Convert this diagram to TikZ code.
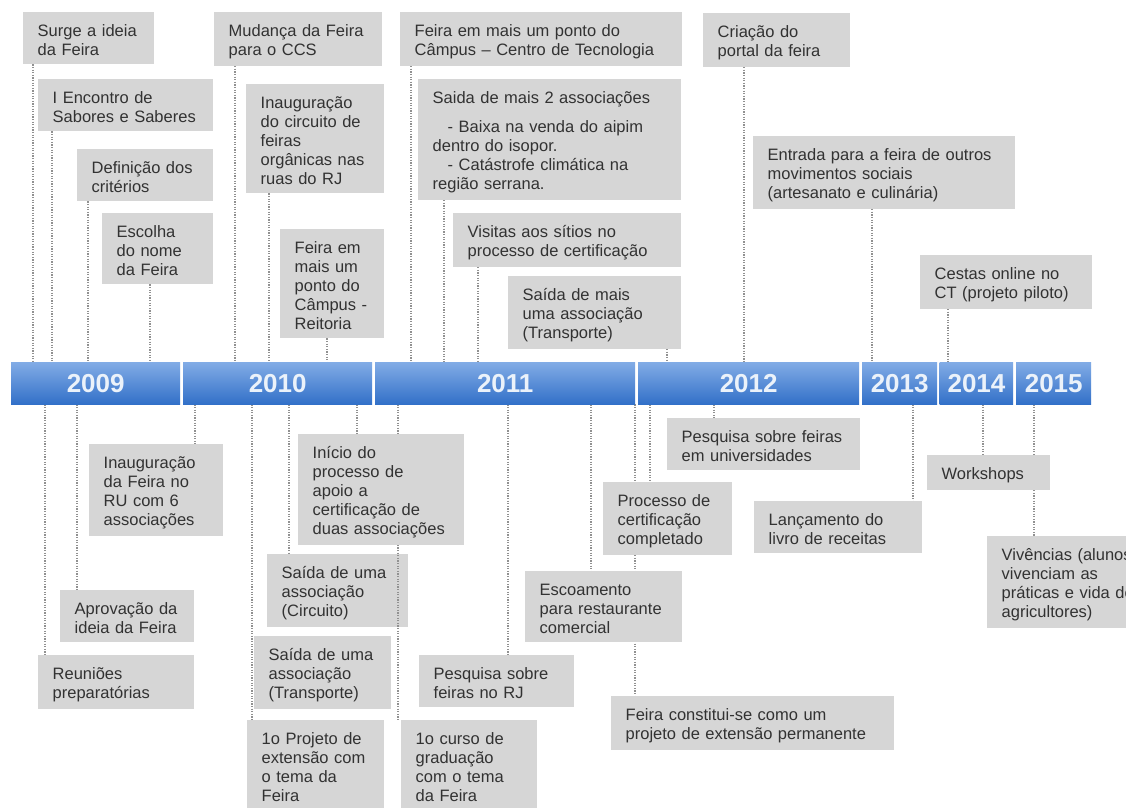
\documentclass[tikz,border=0pt]{standalone}
\usepackage{fontspec}
\setmainfont{Liberation Sans}
\pgfdeclarelayer{bgfill}
\pgfdeclarelayer{lower}
\pgfdeclarelayer{back}
\pgfsetlayers{bgfill,lower,back,main}
\definecolor{boxgray}{RGB}{214,214,214}
\definecolor{txt}{RGB}{50,50,50}
\definecolor{conncol}{RGB}{145,145,145}
\definecolor{bartop}{RGB}{130,172,230}
\definecolor{barbot}{RGB}{50,112,200}
\definecolor{yeartxt}{RGB}{235,242,250}
\newcommand\topst{\rule{0pt}{17.3pt}}
\newcommand\botst{\rule[-1.7pt]{0pt}{1.7pt}}
\tikzset{
  evbox/.style={fill=boxgray, text=txt, inner xsep=14.5pt, inner ysep=7pt,
    align=left, anchor=north west, font=\fontsize{16.5}{19}\selectfont},
  conn/.style={draw=conncol, line width=1.3pt, dash pattern=on 1.2pt off 1.4pt},
  seg/.style={anchor=north west, minimum height=42pt, inner sep=0pt,
    top color=bartop, bottom color=barbot, text=yeartxt,
    font=\fontsize{26}{30}\bfseries\selectfont},
}
\newcommand\evnode[5]{\pgfmathsetmacro\evw{#4-#2-29}%
  \node[evbox, text width=\evw pt] (#1) at (#2,#3) {\topst#5\botst};}
\newcommand\upc[2]{\coordinate (cx) at (#2,0);\draw[conn] (#1.south -| cx) -- (bar.north -| cx);}
\newcommand\dnc[2]{\coordinate (cx) at (#2,0);\draw[conn] (bar.south -| cx) -- (#1.north -| cx);}
\begin{document}
\begin{tikzpicture}[x=1pt,y=-1pt]
\useasboundingbox (0,0) rectangle (1126,807);
\begin{pgfonlayer}{bgfill}
\fill[white] (0,0) rectangle (1126,807);
\end{pgfonlayer}

% timeline bar
\node[anchor=north west, inner sep=0pt, minimum width=1080pt, minimum height=42pt] (bar) at (11,362) {};
\node[seg, minimum width=169pt] (s2009) at (11,362) {2009};
\node[seg, minimum width=189pt] (s2010) at (183,362) {2010};
\node[seg, minimum width=260pt] (s2011) at (375,362) {2011};
\node[seg, minimum width=221pt] (s2012) at (638,362) {2012};
\node[seg, minimum width=75pt] (s2013) at (862,362) {2013};
\node[seg, minimum width=73.5pt] (s2014) at (939.5,362) {2014};
\node[seg, minimum width=75pt] (s2015) at (1016,362) {2015};

% events above the bar
\evnode{e1}{23}{12}{154}{Surge a ideia\\da Feira}
\evnode{e2}{38}{79}{213}{I Encontro de\\Sabores e Saberes}
\evnode{e3}{77}{149}{213}{Definição dos\\critérios}
\evnode{e4}{102}{213}{213}{Escolha\\do nome\\da Feira}
\evnode{e5}{214}{12}{382}{Mudança da Feira\\para o CCS}
\evnode{e6}{246}{84}{384}{Inauguração\\do circuito de\\feiras\\orgânicas nas\\ruas do RJ}
\evnode{e7}{280}{229}{384}{Feira em\\mais um\\ponto do\\Câmpus -\\Reitoria}
\evnode{e8}{400}{12}{682}{Feira em mais um ponto do\\Câmpus – Centro de Tecnologia}
\evnode{e9}{418}{79}{681}{Saida de mais 2 associações\\[10pt]\hspace*{15pt}- Baixa na venda do aipim\\dentro do isopor.\\\hspace*{15pt}- Catástrofe climática na\\região serrana.}
\evnode{e10}{453}{213}{681}{Visitas aos sítios no\\processo de certificação}
\evnode{e11}{508}{276}{681}{Saída de mais\\uma associação\\(Transporte)}
\evnode{e12}{703}{13}{850}{Criação do\\portal da feira}
\evnode{e13}{753}{136}{1015}{Entrada para a feira de outros\\movimentos sociais\\(artesanato e culinária)}
\evnode{e14}{920}{255}{1092}{Cestas online no\\CT (projeto piloto)}

% events below the bar
\evnode{b1}{89}{444}{223}{Inauguração\\da Feira no\\RU com 6\\associações}
\evnode{b2}{60}{590}{194}{Aprovação da\\ideia da Feira}
\evnode{b3}{38}{655}{194}{Reuniões\\preparatórias}
\evnode{b4}{298}{434}{464}{Início do\\processo de\\apoio a\\certificação de\\duas associações}
\begin{pgfonlayer}{lower}
\evnode{b5}{267}{554}{408}{Saída de uma\\associação\\(Circuito)}
\evnode{b6}{254}{636}{391}{Saída de uma\\associação\\(Transporte)}
\end{pgfonlayer}
\evnode{b7}{247}{720}{384}{1o Projeto de\\extensão com\\o tema da\\Feira}
\evnode{b8}{401}{720}{537}{1o curso de\\graduação\\com o tema\\da Feira}
\evnode{b9}{419}{655}{574}{Pesquisa sobre\\feiras no RJ}
\evnode{b10}{525}{571}{682}{Escoamento\\para restaurante\\comercial}
\evnode{b11}{603}{482}{732}{Processo de\\certificação\\completado}
\evnode{b12}{611}{696}{894}{Feira constitui-se como um\\projeto de extensão permanente}
\evnode{b13}{667}{418}{860}{Pesquisa sobre feiras\\em universidades}
\evnode{b14}{754}{501}{922}{Lançamento do\\livro de receitas}
\evnode{b15}{927}{455}{1050}{Workshops}
\evnode{b16}{987}{536}{1160}{Vivências (alunos\\vivenciam as\\práticas e vida de\\agricultores)}

% connectors
\begin{pgfonlayer}{back}
\upc{e1}{33}
\upc{e2}{52}
\upc{e3}{88}
\upc{e4}{150}
\upc{e5}{235}
\upc{e6}{269}
\upc{e7}{327}
\upc{e8}{411}
\upc{e9}{444}
\upc{e10}{478}
\upc{e11}{667}
\upc{e12}{744}
\upc{e13}{872}
\upc{e14}{948}
\dnc{b3}{45}
\dnc{b2}{77}
\dnc{b1}{195}
\dnc{b7}{252}
\dnc{b5}{289}
\dnc{b4}{357}
\dnc{b8}{398}
\dnc{b9}{508}
\dnc{b10}{591}
\dnc{b12}{635}
\dnc{b11}{650}
\dnc{b13}{714}
\dnc{b14}{913}
\dnc{b15}{983}
\dnc{b16}{1034}
\end{pgfonlayer}
\end{tikzpicture}
\end{document}
